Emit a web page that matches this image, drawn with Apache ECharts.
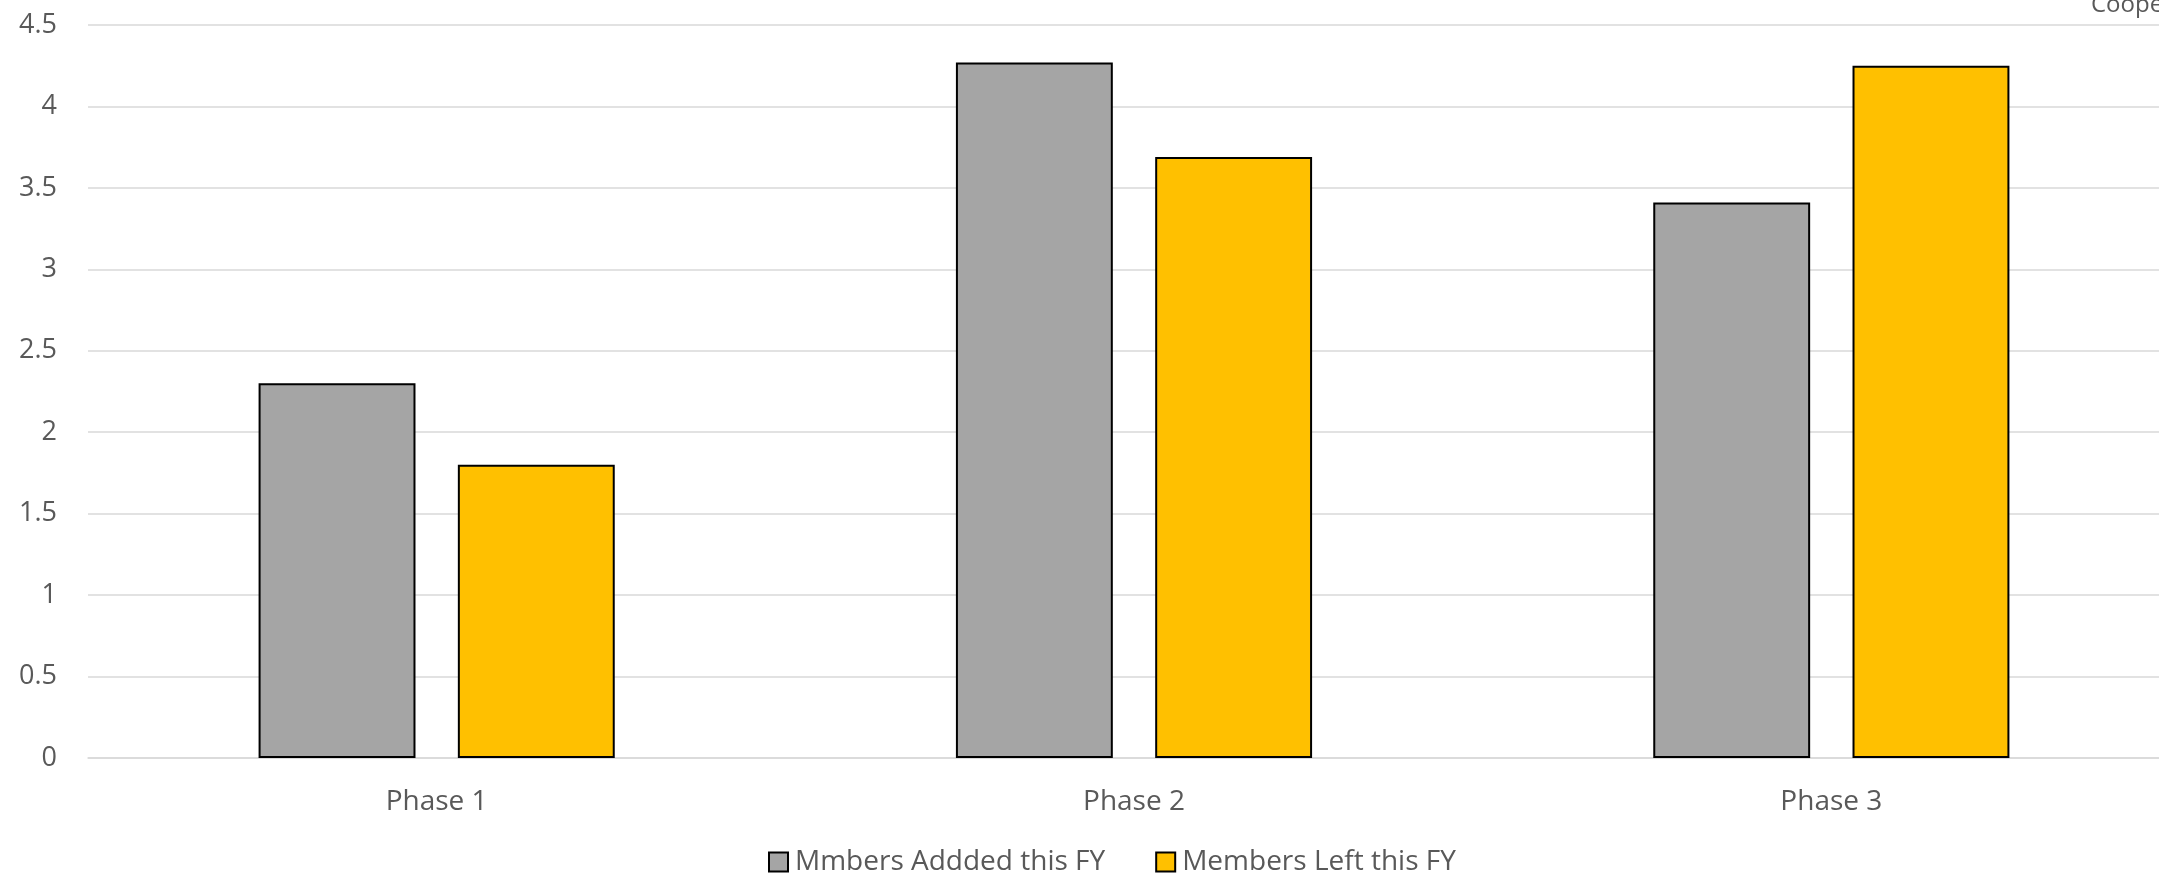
<!DOCTYPE html>
<html><head><meta charset="utf-8">
<script src="https://cdn.jsdelivr.net/npm/echarts@6/dist/echarts.min.js"></script>
<style>html,body{margin:0;padding:0;background:#fff;overflow:hidden}#c{width:2159px;height:875px}</style>
</head><body><div id="c"></div>
<script>
const categories = ["Phase 1", "Phase 2", "Phase 3"];
const seriesNames = ["Mmbers Addded this FY", "Members Left this FY"];
const addedValues = [2.30, 4.27, 3.41];
const leftValues = [1.80, 3.69, 4.25];
const titleText = "Cooperative";

const chart = echarts.init(document.getElementById('c'));
const font = '"Open Sans", sans-serif';
chart.setOption({
  animation: false,
  title: { text: titleText, left: 2086, top: -12, textStyle: { fontFamily: font, fontSize: 24, fontWeight: 'normal', color: '#595959' } },
  grid: { left: 88, right: -21, top: 25, bottom: 117, containLabel: false, outerBoundsMode: 'none' },
  legend: {
    data: seriesNames, top: 843, left: 763, itemWidth: 19, itemHeight: 19, itemGap: 50,
    icon: 'rect',
    textStyle: { fontFamily: font, fontSize: 28, color: '#595959', padding: [0, 0, 0, 2] }
  },
  xAxis: {
    type: 'category', data: categories,
    axisLine: { lineStyle: { color: '#D9D9D9', width: 1.5 } },
    axisTick: { show: false },
    axisLabel: { fontFamily: font, fontSize: 28, color: '#595959', margin: 30 }
  },
  yAxis: {
    type: 'value', min: 0, max: 4.5, interval: 0.5,
    axisLine: { show: false }, axisTick: { show: false },
    splitLine: { lineStyle: { color: '#D9D9D9', width: 1.5 } },
    axisLabel: { fontFamily: font, fontSize: 27, color: '#595959', margin: 31 }
  },
  series: [
    { name: seriesNames[0], type: 'bar', data: addedValues, barWidth: '22.5%', barGap: '27%',
      itemStyle: { color: '#A5A5A5', borderColor: '#000', borderWidth: 2 } },
    { name: seriesNames[1], type: 'bar', data: leftValues, barWidth: '22.5%',
      itemStyle: { color: '#FFC000', borderColor: '#000', borderWidth: 2 } }
  ]
});
</script></body></html>
